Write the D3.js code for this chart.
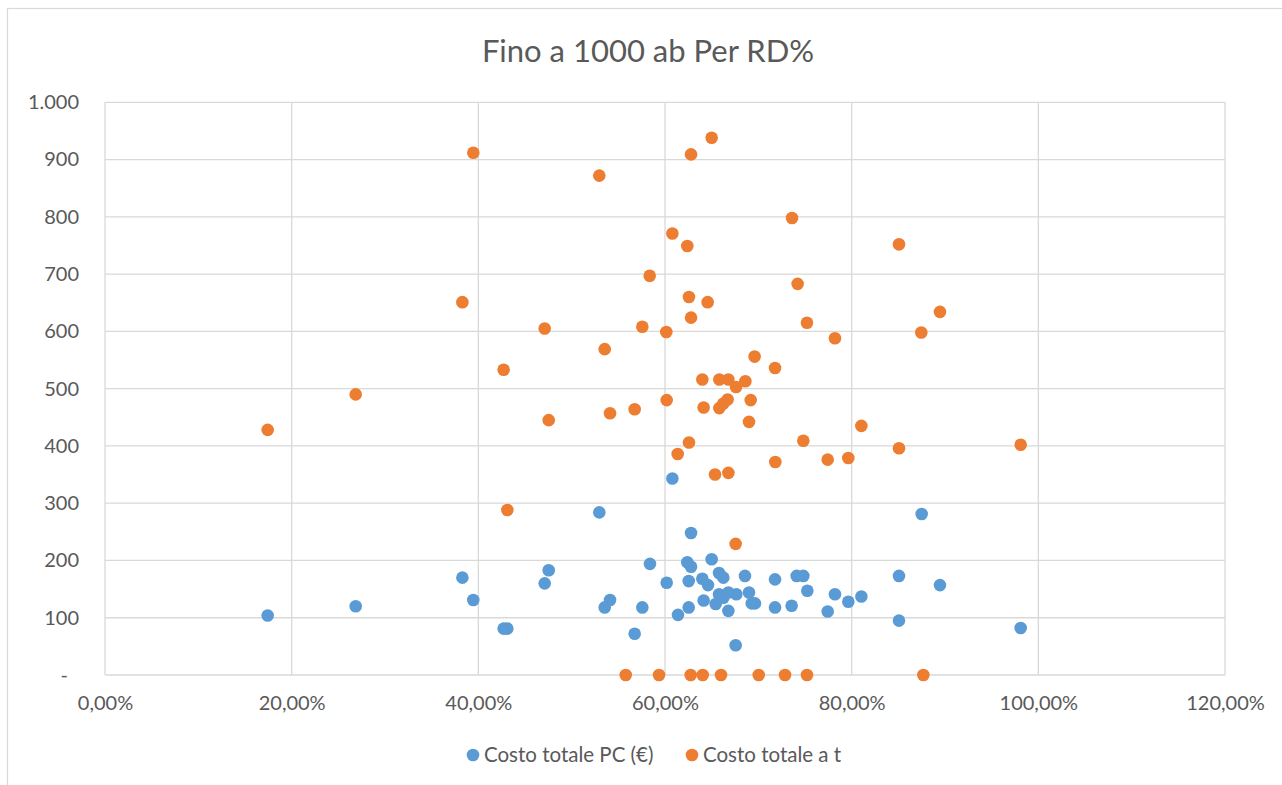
<!DOCTYPE html>
<html>
<head>
<meta charset="utf-8">
<script src="https://cdn.jsdelivr.net/npm/d3@7"></script>
<style>
  html, body { margin: 0; padding: 0; background: #fff; }
  svg { display: block; font-family: Lato, "Open Sans", sans-serif; }
</style>
</head>
<body>
<svg id="chart" width="1282" height="785"></svg>
<script>
// RD% (percent) and costs for each municipality up to 1000 inhabitants
const pcRd = [17.43, 26.86, 38.29, 39.46, 42.71, 43.11, 47.11, 47.54, 52.96, 53.54,
  54.11, 56.75, 57.57, 58.39, 60.18, 60.79, 61.39, 62.39, 62.54, 62.54,
  62.79, 62.79, 64.0, 64.14, 64.61, 65.0, 65.43, 65.79, 65.79, 66.25,
  66.25, 66.79, 66.79, 67.57, 67.64, 68.57, 69.0, 69.29, 69.64, 71.79,
  71.79, 73.57, 74.11, 74.82, 75.25, 77.43, 78.21, 79.64, 81.04, 85.07,
  85.07, 87.5, 89.46, 98.11];
const pcCost = [104, 120, 170, 131, 81, 81, 160, 183, 284, 118,
  131, 72, 118, 194, 161, 343, 105, 197, 164, 118,
  248, 189, 168, 130, 157, 202, 124, 178, 141, 170,
  135, 144, 112, 52, 141, 173, 144, 125, 125, 167,
  118, 121, 173, 173, 147, 111, 141, 128, 137, 173,
  95, 281, 157, 82];

const tRd = [17.43, 26.86, 38.29, 39.46, 42.71, 43.11, 47.11, 47.54, 52.96, 53.54,
  54.11, 56.75, 57.57, 58.36, 60.14, 60.18, 60.79, 61.36, 62.39, 62.57,
  62.57, 62.79, 62.79, 64.0, 64.14, 64.57, 65.0, 65.36, 65.82, 65.82,
  66.25, 66.71, 66.79, 66.79, 67.61, 67.57, 68.61, 69.0, 69.18, 69.6,
  71.79, 71.82, 73.61, 74.21, 74.82, 75.21, 77.43, 78.21, 79.64, 81.04,
  85.07, 85.07, 87.46, 89.46, 98.11,
  55.79, 59.36, 62.75, 64.04, 66.0, 70.04, 72.86, 75.21, 87.68];
const tCost = [428, 490, 651, 912, 533, 288, 605, 445, 872, 569,
  457, 464, 608, 697, 599, 480, 771, 386, 749, 660,
  406, 909, 624, 516, 467, 651, 938, 350, 516, 466,
  474, 481, 516, 353, 503, 229, 513, 442, 480, 556,
  536, 372, 798, 683, 409, 615, 376, 588, 379, 435,
  752, 396, 598, 634, 402,
  0, 0, 0, 0, 0, 0, 0, 0, 0];

const xTicks = [0, 20, 40, 60, 80, 100, 120];
const yTicks = [0, 100, 200, 300, 400, 500, 600, 700, 800, 900, 1000];

const chartTitle = "Fino a 1000 ab Per RD%";
const seriesNames = ["Costo totale PC (€)", "Costo totale a t"];
const seriesColors = ["#5B9BD5", "#ED7D31"];

const svg = d3.select("#chart");
const W = 1282, H = 785;
const plot = { left: 105, right: 1225, top: 102.3, bottom: 675 };

const it = d3.formatLocale({ decimal: ",", thousands: ".", grouping: [3], currency: ["€", ""] });
const fmtPct = v => it.format(",.2f")(v) + "%";
const fmtNum = v => v === 0 ? "-" : it.format(",d")(v);

const x = d3.scaleLinear().domain([0, 120]).range([plot.left, plot.right]);
const y = d3.scaleLinear().domain([0, 1000]).range([plot.bottom, plot.top]);

// chart frame
svg.append("rect")
  .attr("x", 7.5).attr("y", 8.5)
  .attr("width", W + 20).attr("height", H + 20)
  .attr("fill", "#fff").attr("stroke", "#D9D9D9").attr("stroke-width", 1.2);

// title
svg.append("text")
  .attr("x", 648).attr("y", 62)
  .attr("text-anchor", "middle")
  .attr("font-size", 31)
  .attr("fill", "#595959")
  .text(chartTitle);

// gridlines
const grid = svg.append("g").attr("stroke", "#D9D9D9").attr("stroke-width", 1.3);
grid.selectAll("line.h").data(yTicks).join("line")
  .attr("x1", plot.left).attr("x2", plot.right)
  .attr("y1", d => y(d)).attr("y2", d => y(d));
grid.selectAll("line.v").data(xTicks).join("line")
  .attr("y1", plot.top).attr("y2", plot.bottom)
  .attr("x1", d => x(d)).attr("x2", d => x(d));

// y axis labels
const yAxis = svg.append("g")
  .attr("transform", `translate(${plot.left - 26},0)`)
  .call(d3.axisLeft(y).tickValues(yTicks).tickFormat(fmtNum).tickSize(0).tickPadding(0));
yAxis.select(".domain").remove();
yAxis.selectAll("text")
  .attr("font-family", "Lato, 'Open Sans', sans-serif")
  .attr("font-size", 20).attr("fill", "#595959")
  .attr("dx", d => d === 0 ? -11 : 0);

// x axis labels
const xAxis = svg.append("g")
  .attr("transform", `translate(0,${plot.bottom})`)
  .call(d3.axisBottom(x).tickValues(xTicks).tickFormat(fmtPct).tickSize(0).tickPadding(21));
xAxis.select(".domain").remove();
xAxis.selectAll("text")
  .attr("font-family", "Lato, 'Open Sans', sans-serif")
  .attr("font-size", 20).attr("fill", "#595959");

// points
const series = [
  { xs: pcRd, ys: pcCost, color: seriesColors[0] },
  { xs: tRd, ys: tCost, color: seriesColors[1] }
];
series.forEach(s => {
  svg.append("g").selectAll("circle")
    .data(s.xs.map((v, i) => [v, s.ys[i]]))
    .join("circle")
    .attr("cx", d => x(d[0]))
    .attr("cy", d => y(d[1]))
    .attr("r", 6.3)
    .attr("fill", s.color);
});

// legend
const legend = svg.append("g").attr("transform", "translate(0,755)");
const legendX = [473, 692];
seriesNames.forEach((name, i) => {
  legend.append("circle").attr("cx", legendX[i]).attr("cy", 0).attr("r", 6.3).attr("fill", seriesColors[i]);
  legend.append("text")
    .attr("x", legendX[i] + 11).attr("y", 0).attr("dy", "0.35em")
    .attr("font-size", 20.5).attr("fill", "#595959")
    .text(name);
});
</script>
</body>
</html>
